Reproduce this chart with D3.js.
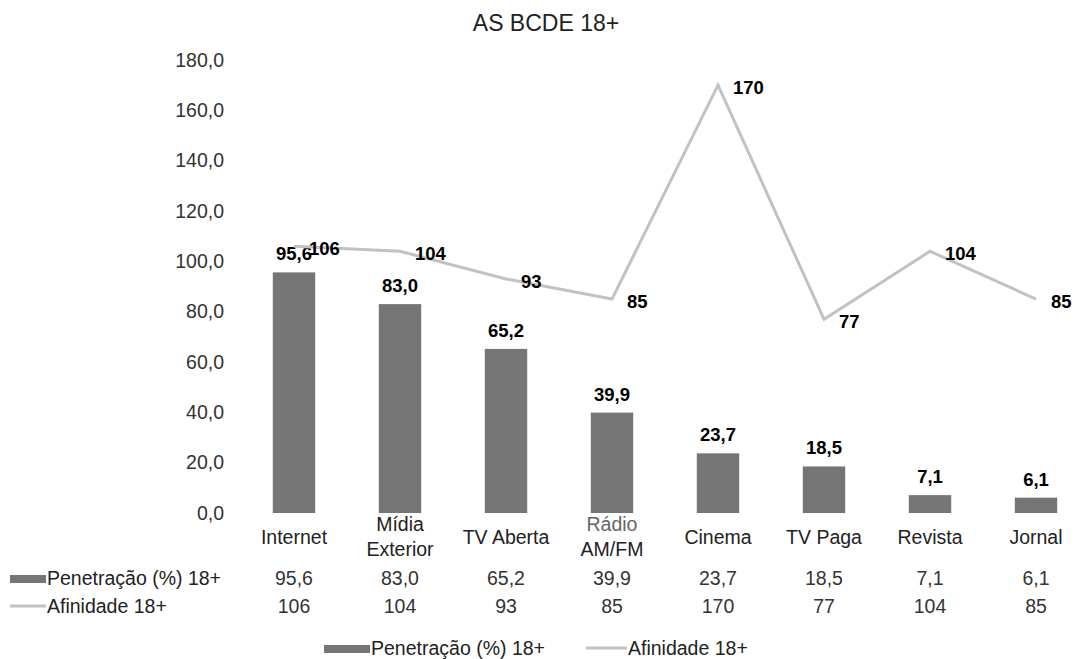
<!DOCTYPE html>
<html>
<head>
<meta charset="utf-8">
<script src="https://cdn.jsdelivr.net/npm/d3@7"></script>
<style>
  body { margin: 0; background: #fff; }
  text { font-family: "Liberation Sans", Arial, sans-serif; }
</style>
</head>
<body>
<div id="chart"></div>
<script>
// data
const categories = ["Internet", "Mídia Exterior", "TV Aberta", "Rádio AM/FM", "Cinema", "TV Paga", "Revista", "Jornal"];
const penetracao = [95.6, 83.0, 65.2, 39.9, 23.7, 18.5, 7.1, 6.1];
const afinidade = [106, 104, 93, 85, 170, 77, 104, 85];
const yTicks = [0, 20, 40, 60, 80, 100, 120, 140, 160, 180];
const seriesNames = ["Penetração (%) 18+", "Afinidade 18+"];
const chartTitle = "AS BCDE 18+";

const BAR_COLOR = "#757575";
const LINE_COLOR = "#c2c2c2";
const TEXT_COLOR = "#222";

let width = 1077, height = 659;
let svg = null, x = null, y = null;

const fmt1 = d => d3.format(".1f")(d).replace(".", ",");

renderChart();

function renderChart() {
  svg = d3.select("#chart").append("svg")
    .attr("width", width)
    .attr("height", height);

  x = d3.scalePoint().domain(categories).range([241, 1089]).padding(0.5);
  y = d3.scaleLinear().domain([0, 180]).range([513, 60]);

  appendTitle();
  appendYAxis();
  appendBars();
  appendLine();
  appendCategoryLabels();
  appendDataTable();
  appendLegend();
}

function appendTitle() {
  svg.append("text")
    .attr("x", 546)
    .attr("y", 31)
    .attr("text-anchor", "middle")
    .style("font-size", "23px")
    .attr("fill", TEXT_COLOR)
    .text(chartTitle);
}

function appendYAxis() {
  let g = svg.append("g")
    .attr("transform", "translate(230,0)")
    .call(d3.axisLeft(y).tickValues(yTicks).tickFormat(fmt1).tickSize(0).tickPadding(6));
  g.select(".domain").remove();
  g.selectAll("text")
    .style("font-size", "19.5px")
    .style("font-family", "'Liberation Sans', Arial, sans-serif")
    .attr("fill", "#333");
}

function appendBars() {
  let bw = x.step() * 0.4;
  svg.selectAll(".bar")
    .data(penetracao)
    .enter().append("rect")
    .attr("class", "bar")
    .attr("x", (d, i) => x(categories[i]) - bw / 2)
    .attr("width", bw)
    .attr("y", d => y(d))
    .attr("height", d => y(0) - y(d))
    .attr("fill", BAR_COLOR);

  svg.selectAll(".barLabel")
    .data(penetracao)
    .enter().append("text")
    .attr("class", "barLabel")
    .attr("x", (d, i) => x(categories[i]))
    .attr("y", d => y(d) - 12)
    .attr("text-anchor", "middle")
    .style("font-size", "18.5px")
    .style("font-weight", "bold")
    .attr("fill", "#000")
    .text(fmt1);
}

function appendLine() {
  let line = d3.line()
    .x((d, i) => x(categories[i]))
    .y(d => y(d));

  svg.append("path")
    .datum(afinidade)
    .attr("fill", "none")
    .attr("stroke", LINE_COLOR)
    .attr("stroke-width", 3)
    .attr("stroke-linejoin", "miter")
    .attr("d", line);

  svg.selectAll(".lineLabel")
    .data(afinidade)
    .enter().append("text")
    .attr("class", "lineLabel")
    .attr("x", (d, i) => x(categories[i]) + 15)
    .attr("y", d => y(d) + 9)
    .style("font-size", "18.5px")
    .style("font-weight", "bold")
    .attr("fill", "#000")
    .text(d => d);
}

function appendCategoryLabels() {
  let labels = svg.selectAll(".catLabel")
    .data(categories)
    .enter().append("text")
    .attr("class", "catLabel")
    .attr("text-anchor", "middle")
    .style("font-size", "19.5px")
    .attr("fill", d => d === "Rádio AM/FM" ? "#666" : TEXT_COLOR);

  labels.each(function(d) {
    let parts = (d === "Mídia Exterior" || d === "Rádio AM/FM") ? d.split(" ") : [d];
    let el = d3.select(this);
    let cx = x(d);
    let startY = parts.length === 1 ? 544 : 531;
    parts.forEach((p, i) => {
      el.append("tspan")
        .attr("x", cx)
        .attr("y", startY + i * 25)
        .attr("fill", i === 1 && d === "Rádio AM/FM" ? TEXT_COLOR : null)
        .text(p);
    });
  });
}

function appendDataTable() {
  let rows = [penetracao.map(fmt1), afinidade.map(String)];
  let rowY = [585, 613];

  // row keys
  svg.append("rect")
    .attr("x", 10).attr("y", rowY[0] - 10)
    .attr("width", 36).attr("height", 8)
    .attr("fill", BAR_COLOR);
  svg.append("line")
    .attr("x1", 10).attr("x2", 46)
    .attr("y1", rowY[1] - 7).attr("y2", rowY[1] - 7)
    .attr("stroke", LINE_COLOR).attr("stroke-width", 3);

  seriesNames.forEach((name, i) => {
    svg.append("text")
      .attr("x", 47)
      .attr("y", rowY[i])
      .style("font-size", "19.5px")
      .attr("fill", TEXT_COLOR)
      .text(name);
  });

  rows.forEach((row, r) => {
    svg.selectAll(".tableRow" + r)
      .data(row)
      .enter().append("text")
      .attr("class", "tableRow" + r)
      .attr("x", (d, i) => x(categories[i]))
      .attr("y", rowY[r])
      .attr("text-anchor", "middle")
      .style("font-size", "19.5px")
      .attr("fill", "#333")
      .text(d => d);
  });
}

function appendLegend() {
  let ly = 655;
  let legend = svg.append("g").attr("class", "legend");

  legend.append("rect")
    .attr("x", 324).attr("y", ly - 10)
    .attr("width", 46).attr("height", 8)
    .attr("fill", BAR_COLOR);
  legend.append("text")
    .attr("x", 371).attr("y", ly)
    .style("font-size", "19.5px")
    .attr("fill", TEXT_COLOR)
    .text(seriesNames[0]);

  legend.append("line")
    .attr("x1", 586).attr("x2", 627)
    .attr("y1", ly - 7).attr("y2", ly - 7)
    .attr("stroke", LINE_COLOR).attr("stroke-width", 3);
  legend.append("text")
    .attr("x", 628).attr("y", ly)
    .style("font-size", "19.5px")
    .attr("fill", TEXT_COLOR)
    .text(seriesNames[1]);
}
</script>
</body>
</html>
